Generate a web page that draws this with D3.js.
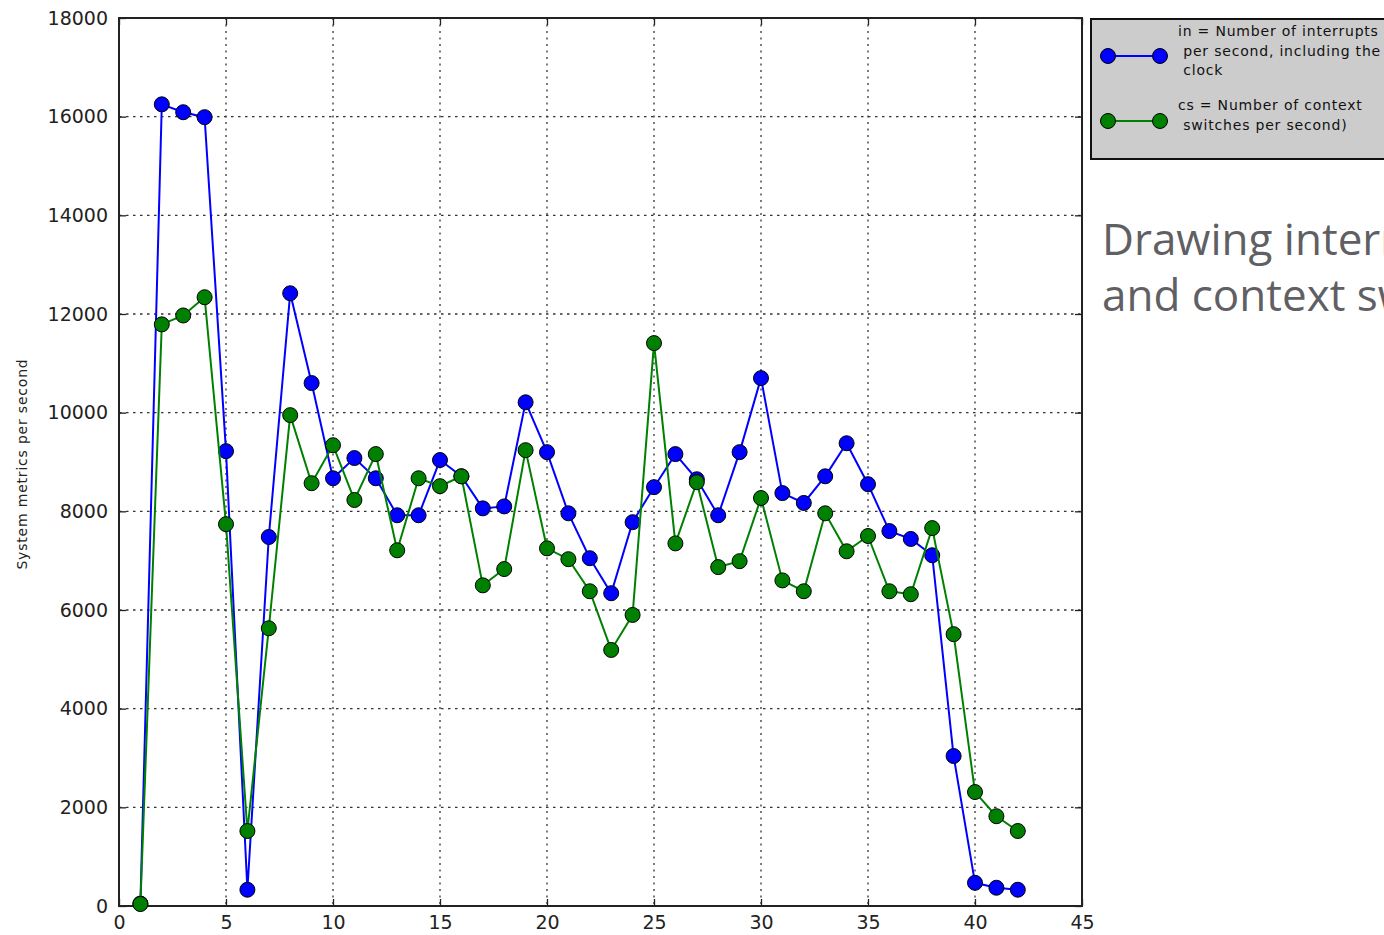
<!DOCTYPE html>
<html>
<head>
<meta charset="utf-8">
<script src="https://cdn.jsdelivr.net/npm/d3@7"></script>
<style>
  html, body { margin: 0; padding: 0; background: #fff; overflow: hidden; }
  svg { display: block; }
</style>
</head>
<body>
<svg id="chart" width="1384" height="935"></svg>
<script>
// Sample index (one reading per second)
const samples = d3.range(1, 43);

// in = interrupts per second, including the clock
const interrupts = [50, 16250, 16090, 15990, 9220, 330, 7480, 12420, 10600, 8670,
  9080, 8670, 7920, 7920, 9040, 8710, 8060, 8100, 10210, 9200,
  7960, 7050, 6340, 7780, 8490, 9160, 8650, 7920, 9200, 10700,
  8370, 8170, 8710, 9380, 8550, 7600, 7440, 7110, 3040, 470,
  370, 330];

// cs = context switches per second
const contextSwitches = [40, 11790, 11970, 12340, 7740, 1520, 5630, 9950, 8570, 9340,
  8230, 9160, 7210, 8670, 8510, 8710, 6500, 6830, 9240, 7250,
  7030, 6380, 5190, 5900, 11410, 7350, 8590, 6870, 6990, 8270,
  6600, 6380, 7960, 7190, 7500, 6380, 6320, 7660, 5510, 2310,
  1820, 1520];

const xTicks = [0, 5, 10, 15, 20, 25, 30, 35, 40, 45];
const yTicks = [0, 2000, 4000, 6000, 8000, 10000, 12000, 14000, 16000, 18000];

const seriesNames = ["in = Number of interrupts\n per second, including the\n clock",
                     "cs = Number of context\n switches per second)"];
const seriesColors = ["#0000ff", "#008000"];
const titleLines = ["Drawing interrupts", "and context switches"];
const yLabel = "System metrics per second";

const svg = d3.select("#chart");
const m = { left: 119, top: 18, right: 1082, bottom: 906 };

const x = d3.scaleLinear().domain([0, 45]).range([m.left, m.right]);
const y = d3.scaleLinear().domain([0, 18000]).range([m.bottom, m.top]);

const font = "'DejaVu Sans', sans-serif";

// dotted grid
const grid = svg.append("g");
grid.selectAll("line.gx").data(xTicks.slice(1, -1)).join("line")
  .attr("x1", d => x(d)).attr("x2", d => x(d))
  .attr("y1", m.top).attr("y2", m.bottom)
  .attr("stroke", "#333").attr("stroke-width", 1.3).attr("stroke-dasharray", "2,4.5");
grid.selectAll("line.gy").data(yTicks.slice(1, -1)).join("line")
  .attr("x1", m.left).attr("x2", m.right)
  .attr("y1", d => y(d)).attr("y2", d => y(d))
  .attr("stroke", "#333").attr("stroke-width", 1.3).attr("stroke-dasharray", "2.5,4.5");

// axes with inward ticks
const xAxisB = svg.append("g").attr("transform", `translate(0,${m.bottom})`)
  .call(d3.axisBottom(x).tickValues(xTicks).tickSizeInner(-7).tickSizeOuter(0).tickPadding(10));
const xAxisT = svg.append("g").attr("transform", `translate(0,${m.top})`)
  .call(d3.axisTop(x).tickValues(xTicks).tickSizeInner(-7).tickSizeOuter(0).tickFormat(""));
const yAxisL = svg.append("g").attr("transform", `translate(${m.left},0)`)
  .call(d3.axisLeft(y).tickValues(yTicks).tickSizeInner(-7).tickSizeOuter(0).tickPadding(11).tickFormat(d3.format("d")));
const yAxisR = svg.append("g").attr("transform", `translate(${m.right},0)`)
  .call(d3.axisRight(y).tickValues(yTicks).tickSizeInner(-7).tickSizeOuter(0).tickFormat(""));

[xAxisB, xAxisT, yAxisL, yAxisR].forEach(g => {
  g.select(".domain").remove();
  g.selectAll(".tick line").attr("stroke", "#222").attr("stroke-width", 1.3);
  g.selectAll("text").attr("font-family", font).attr("font-size", 19).attr("fill", "#222");
});
xAxisB.selectAll("text").attr("dy", "0.71em");

// frame
svg.append("rect").attr("x", m.left).attr("y", m.top)
  .attr("width", m.right - m.left).attr("height", m.bottom - m.top)
  .attr("fill", "none").attr("stroke", "#222").attr("stroke-width", 2);

// y axis label
svg.append("text")
  .attr("transform", `translate(27,${(m.top + m.bottom) / 2 + 2}) rotate(-90)`)
  .attr("text-anchor", "middle").attr("font-family", font).attr("font-size", 14)
  .attr("letter-spacing", 0.8).attr("fill", "#222")
  .text(yLabel);

// series
const line = d3.line().x((d, i) => x(samples[i])).y(d => y(d));
[interrupts, contextSwitches].forEach((vals, k) => {
  const g = svg.append("g");
  g.append("path").datum(vals).attr("d", line)
    .attr("fill", "none").attr("stroke", seriesColors[k]).attr("stroke-width", 2);
  g.selectAll("circle").data(vals).join("circle")
    .attr("cx", (d, i) => x(samples[i])).attr("cy", d => y(d)).attr("r", 7.5)
    .attr("fill", seriesColors[k]).attr("stroke", "#000").attr("stroke-width", 1);
});

// legend
const lg = svg.append("g");
lg.append("rect").attr("x", 1091).attr("y", 19).attr("width", 300).attr("height", 140)
  .attr("fill", "#cccccc").attr("stroke", "#111").attr("stroke-width", 2);
const legendRows = [{ ly: 56, ty: 36 }, { ly: 121, ty: 110 }];
legendRows.forEach((r, k) => {
  lg.append("line").attr("x1", 1108).attr("x2", 1160).attr("y1", r.ly).attr("y2", r.ly)
    .attr("stroke", seriesColors[k]).attr("stroke-width", 2);
  [1108, 1160].forEach(cx => lg.append("circle").attr("cx", cx).attr("cy", r.ly).attr("r", 7.5)
    .attr("fill", seriesColors[k]).attr("stroke", "#000").attr("stroke-width", 1));
  const t = lg.append("text").attr("font-family", font).attr("font-size", 14)
    .attr("letter-spacing", 0.8).attr("fill", "#111")
    .attr("xml:space", "preserve");
  seriesNames[k].split("\n").forEach((s, i) => {
    t.append("tspan").attr("x", 1178).attr("y", r.ty + i * 19.5).text(s);
  });
});

// side heading
const head = svg.append("text").attr("font-family", "'Open Sans', 'Noto Sans', sans-serif")
  .attr("font-size", 44).attr("fill", "#5f5f64");
titleLines.forEach((s, i) => head.append("tspan").attr("x", 1102).attr("y", 255 + i * 56).text(s));
</script>
</body>
</html>
